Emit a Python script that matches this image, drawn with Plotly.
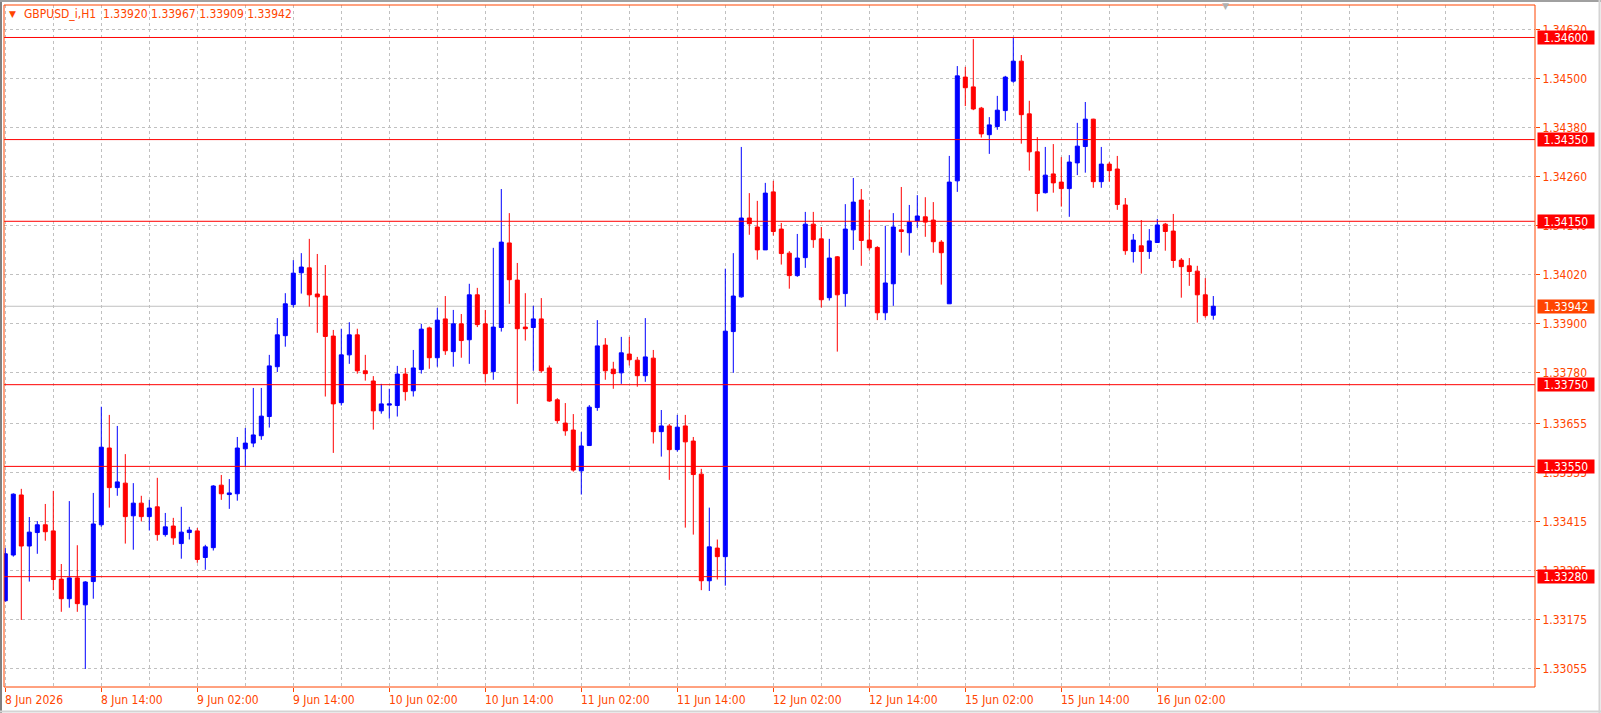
import plotly.graph_objects as go

# ---------------- data (GBPUSD_i, H1) ----------------
open_ = [1.33221, 1.33333, 1.33480, 1.33355, 1.33388, 1.33407, 1.33392, 1.33274, 1.33226, 1.33277,
         1.33211, 1.33268, 1.33407, 1.33595, 1.33498, 1.33509, 1.33429, 1.33460, 1.33427, 1.33451,
         1.33383, 1.33404, 1.33361, 1.33388, 1.33392, 1.33327, 1.33351, 1.33504, 1.33481, 1.33483,
         1.33593, 1.33607, 1.33625, 1.33672, 1.33794, 1.33870, 1.33946, 1.34024, 1.34036, 1.33972,
         1.33967, 1.33869, 1.33706, 1.33823, 1.33872, 1.33784, 1.33759, 1.33686, 1.33700, 1.33699,
         1.33776, 1.33735, 1.33787, 1.33889, 1.33816, 1.33911, 1.33831, 1.33899, 1.33860, 1.33970,
         1.33899, 1.33782, 1.33890, 1.34097, 1.34006, 1.33891, 1.33890, 1.33911, 1.33791, 1.33713,
         1.33656, 1.33639, 1.33539, 1.33601, 1.33694, 1.33847, 1.33788, 1.33779, 1.33825, 1.33810,
         1.33772, 1.33815, 1.33635, 1.33649, 1.33591, 1.33649, 1.33612, 1.33531, 1.33270, 1.33350,
         1.33329, 1.33880, 1.33965, 1.34158, 1.34136, 1.34080, 1.34222, 1.34131, 1.34072, 1.34017,
         1.34061, 1.34143, 1.34107, 1.33963, 1.34063, 1.33973, 1.34129, 1.34202, 1.34104, 1.34086,
         1.33926, 1.33997, 1.34129, 1.34122, 1.34151, 1.34161, 1.34153, 1.34099, 1.33948, 1.34249,
         1.34503, 1.34479, 1.34427, 1.34362, 1.34382, 1.34421, 1.34493, 1.34542, 1.34413, 1.34320,
         1.34220, 1.34266, 1.34246, 1.34230, 1.34293, 1.34333, 1.34400, 1.34247, 1.34290, 1.34278,
         1.34190, 1.34076, 1.34090, 1.34076, 1.34098, 1.34143, 1.34126, 1.34055, 1.34041, 1.34028,
         1.33970, 1.33920]
high_ = [1.33350, 1.33484, 1.33495, 1.33426, 1.33416, 1.33458, 1.33490, 1.33311, 1.33465, 1.33357,
         1.33269, 1.33485, 1.33696, 1.33676, 1.33649, 1.33580, 1.33509, 1.33478, 1.33468, 1.33522,
         1.33436, 1.33424, 1.33451, 1.33402, 1.33399, 1.33358, 1.33504, 1.33529, 1.33519, 1.33622,
         1.33644, 1.33742, 1.33742, 1.33823, 1.33913, 1.33974, 1.34055, 1.34072, 1.34107, 1.34070,
         1.34043, 1.33884, 1.33887, 1.33903, 1.33887, 1.33823, 1.33771, 1.33752, 1.33740, 1.33796,
         1.33791, 1.33835, 1.33899, 1.33892, 1.33938, 1.33967, 1.33933, 1.33923, 1.33997, 1.33987,
         1.33933, 1.34085, 1.34229, 1.34170, 1.34048, 1.33974, 1.33943, 1.33962, 1.33797, 1.33717,
         1.33705, 1.33678, 1.33634, 1.33700, 1.33908, 1.33864, 1.33806, 1.33867, 1.33867, 1.33818,
         1.33913, 1.33835, 1.33688, 1.33654, 1.33676, 1.33676, 1.33622, 1.33544, 1.33449, 1.33371,
         1.34034, 1.34072, 1.34332, 1.34219, 1.34200, 1.34244, 1.34249, 1.34146, 1.34077, 1.34119,
         1.34173, 1.34173, 1.34136, 1.34107, 1.34065, 1.34192, 1.34256, 1.34229, 1.34178, 1.34089,
         1.34139, 1.34170, 1.34234, 1.34190, 1.34214, 1.34209, 1.34197, 1.34104, 1.34310, 1.34530,
         1.34528, 1.34596, 1.34430, 1.34405, 1.34457, 1.34506, 1.34601, 1.34557, 1.34445, 1.34356,
         1.34332, 1.34339, 1.34307, 1.34312, 1.34391, 1.34442, 1.34401, 1.34332, 1.34295, 1.34310,
         1.34207, 1.34119, 1.34153, 1.34131, 1.34156, 1.34146, 1.34168, 1.34060, 1.34060, 1.34041,
         1.34011, 1.33967]
low_ = [1.33219, 1.33329, 1.33174, 1.33268, 1.33336, 1.33368, 1.33247, 1.33194, 1.33204, 1.33194,
        1.33054, 1.33226, 1.33402, 1.33449, 1.33478, 1.33361, 1.33346, 1.33415, 1.33393, 1.33368,
        1.33378, 1.33358, 1.33324, 1.33371, 1.33314, 1.33297, 1.33344, 1.33468, 1.33446, 1.33466,
        1.33549, 1.33597, 1.33615, 1.33645, 1.33781, 1.33843, 1.33939, 1.33973, 1.33941, 1.33877,
        1.33721, 1.33583, 1.33699, 1.33801, 1.33777, 1.33760, 1.33640, 1.33679, 1.33667, 1.33672,
        1.33711, 1.33721, 1.33777, 1.33789, 1.33794, 1.33823, 1.33794, 1.33816, 1.33801, 1.33891,
        1.33755, 1.33762, 1.33880, 1.33948, 1.33703, 1.33858, 1.33784, 1.33779, 1.33708, 1.33655,
        1.33625, 1.33537, 1.33481, 1.33601, 1.33686, 1.33762, 1.33740, 1.33752, 1.33797, 1.33745,
        1.33757, 1.33606, 1.33574, 1.33517, 1.33586, 1.33400, 1.33383, 1.33247, 1.33245, 1.33273,
        1.33258, 1.33779, 1.33963, 1.34117, 1.34056, 1.34080, 1.34115, 1.34044, 1.33985, 1.34014,
        1.34036, 1.34085, 1.33939, 1.33956, 1.33831, 1.33941, 1.34080, 1.34041, 1.34078, 1.33908,
        1.33908, 1.33943, 1.34073, 1.34066, 1.34134, 1.34112, 1.34073, 1.33995, 1.33948, 1.34222,
        1.34432, 1.34422, 1.34355, 1.34315, 1.34374, 1.34396, 1.34489, 1.34340, 1.34274, 1.34174,
        1.34218, 1.34220, 1.34186, 1.34161, 1.34263, 1.34269, 1.34232, 1.34232, 1.34247, 1.34178,
        1.34068, 1.34049, 1.34022, 1.34058, 1.34098, 1.34078, 1.34036, 1.33963, 1.33992, 1.33902,
        1.33914, 1.33909]
close_ = [1.33336, 1.33482, 1.33355, 1.33389, 1.33407, 1.33390, 1.33273, 1.33226, 1.33277, 1.33214,
          1.33267, 1.33409, 1.33597, 1.33498, 1.33512, 1.33427, 1.33460, 1.33427, 1.33448, 1.33383,
          1.33402, 1.33375, 1.33389, 1.33394, 1.33322, 1.33353, 1.33502, 1.33483, 1.33485, 1.33595,
          1.33607, 1.33627, 1.33673, 1.33796, 1.33872, 1.33948, 1.34023, 1.34038, 1.33970, 1.33965,
          1.33868, 1.33703, 1.33823, 1.33872, 1.33784, 1.33777, 1.33686, 1.33703, 1.33703, 1.33776,
          1.33733, 1.33791, 1.33886, 1.33816, 1.33908, 1.33833, 1.33899, 1.33858, 1.33970, 1.33897,
          1.33777, 1.33891, 1.34099, 1.34007, 1.33887, 1.33887, 1.33911, 1.33784, 1.33710, 1.33662,
          1.33637, 1.33541, 1.33600, 1.33695, 1.33845, 1.33784, 1.33777, 1.33828, 1.33811, 1.33772,
          1.33818, 1.33635, 1.33649, 1.33591, 1.33646, 1.33610, 1.33530, 1.33270, 1.33353, 1.33329,
          1.33881, 1.33967, 1.34158, 1.34144, 1.34080, 1.34219, 1.34125, 1.34071, 1.34017, 1.34060,
          1.34143, 1.34105, 1.33958, 1.34060, 1.33970, 1.34131, 1.34197, 1.34103, 1.34085, 1.33926,
          1.33999, 1.34136, 1.34125, 1.34148, 1.34163, 1.34148, 1.34100, 1.34073, 1.34246, 1.34506,
          1.34477, 1.34425, 1.34364, 1.34386, 1.34422, 1.34503, 1.34542, 1.34411, 1.34320, 1.34218,
          1.34263, 1.34244, 1.34230, 1.34295, 1.34334, 1.34400, 1.34247, 1.34290, 1.34274, 1.34191,
          1.34078, 1.34104, 1.34076, 1.34102, 1.34141, 1.34125, 1.34054, 1.34039, 1.34027, 1.33970,
          1.33919, 1.33942]

# time-axis labels (bar index -> label)
time_tick_idx = [0, 12, 24, 36, 48, 60, 72, 84, 96, 108, 120, 132, 144]
time_tick_text = ["8 Jun 2026", "8 Jun 14:00", "9 Jun 02:00", "9 Jun 14:00", "10 Jun 02:00",
                  "10 Jun 14:00", "11 Jun 02:00", "11 Jun 14:00", "12 Jun 02:00", "12 Jun 14:00",
                  "15 Jun 02:00", "15 Jun 14:00", "16 Jun 02:00"]

# price-axis labels
price_ticks = [1.34620, 1.34500, 1.34380, 1.34260, 1.34140, 1.34020, 1.33900,
               1.33780, 1.33655, 1.33535, 1.33415, 1.33295, 1.33175, 1.33055]

# horizontal level lines
levels = [1.34600, 1.34350, 1.34150, 1.33750, 1.33550, 1.33280]

symbol = "GBPUSD_i,H1"

# ---------------- styling ----------------
FG = "#FF4500"
FONT = "DejaVu Sans Condensed, DejaVu Sans, sans-serif"
W, H = 1601, 713
ML, MR, MT, MB = 4, 66, 5, 26
PX_PER_BAR = 8.0
FIRST_BAR_PX = 5.3

n = len(close_)
x = list(range(n))

plot_w = W - ML - MR
plot_h = H - MT - MB
x0 = (ML - (ML + FIRST_BAR_PX - ML)) / PX_PER_BAR  # placeholder computed below
x_left = -(FIRST_BAR_PX - 0 - (0)) / PX_PER_BAR
# left edge of plot is at pixel ML; bar 0 centre sits at pixel FIRST_BAR_PX
x_left = (ML - FIRST_BAR_PX) / PX_PER_BAR
x_right = x_left + plot_w / PX_PER_BAR

y_bottom, y_top = 1.330099, 1.346795

fig = go.Figure()
fig.add_trace(go.Candlestick(
    x=x, open=open_, high=high_, low=low_, close=close_,
    increasing=dict(line=dict(color="#0000FF", width=1), fillcolor="#0000FF"),
    decreasing=dict(line=dict(color="#FF0000", width=1), fillcolor="#FF0000"),
    whiskerwidth=0, showlegend=False, hoverinfo="skip",
))

grid_style = dict(gridcolor="#C0C0C0", gridwidth=1, griddash="3px,3px")

minor_grid = [v for v in range(6, int(x_right) + 1, 6) if v not in time_tick_idx]

fig.update_layout(
    width=W, height=H,
    margin=dict(l=ML, r=MR, t=MT, b=MB, pad=0),
    paper_bgcolor="white", plot_bgcolor="white",
    boxgap=0.5, boxgroupgap=0,
    hovermode=False, dragmode=False,
    font=dict(family=FONT, size=12, color=FG),
    xaxis=dict(
        range=[x_left, x_right], rangeslider=dict(visible=False),
        tickmode="array", tickvals=time_tick_idx, ticktext=[""] * len(time_tick_idx),
        ticks="outside", ticklen=4, tickcolor=FG, tickwidth=1,
        showgrid=True, **grid_style, zeroline=False, showline=False,
        minor=dict(tickmode="array", tickvals=minor_grid, showgrid=True,
                   gridcolor="#C0C0C0", gridwidth=1, griddash="3px,3px", ticks=""),
        fixedrange=True,
    ),
    yaxis=dict(
        range=[y_bottom, y_top], side="right",
        tickmode="array", tickvals=price_ticks,
        ticktext=[f"{p:.5f}" for p in price_ticks],
        ticks="outside", ticklen=4, tickcolor=FG, tickwidth=1,
        tickfont=dict(family=FONT, size=12, color=FG),
        showgrid=True, **grid_style, zeroline=False, showline=False,
        fixedrange=True,
    ),
)

shapes = []
# current price line
last_close = close_[-1]
shapes.append(dict(type="line", xref="paper", yref="y", x0=0, x1=1, y0=last_close, y1=last_close,
                   line=dict(color="#C0C0C0", width=1), layer="below"))
# level lines
for lv in levels:
    shapes.append(dict(type="line", xref="paper", yref="y", x0=0, x1=1, y0=lv, y1=lv,
                       line=dict(color="#FF0000", width=1), layer="above"))
# plot border
shapes.append(dict(type="rect", xref="paper", yref="paper", x0=0, x1=1, y0=0, y1=1,
                   line=dict(color=FG, width=1), layer="above"))


def px2paper_x(px):
    return (px - ML) / plot_w


def py2paper_y(py):
    return (H - MB - py) / plot_h


# outer window frame
shapes.append(dict(type="line", xref="paper", yref="paper", x0=px2paper_x(1), x1=px2paper_x(1),
                   y0=py2paper_y(0), y1=py2paper_y(H), line=dict(color="#808080", width=2)))
shapes.append(dict(type="line", xref="paper", yref="paper", x0=px2paper_x(0), x1=px2paper_x(W),
                   y0=py2paper_y(1), y1=py2paper_y(1), line=dict(color="#A0A0A0", width=2)))
shapes.append(dict(type="line", xref="paper", yref="paper", x0=px2paper_x(W - 1.5), x1=px2paper_x(W - 1.5),
                   y0=py2paper_y(0), y1=py2paper_y(H), line=dict(color="#D4D4D4", width=2)))
shapes.append(dict(type="line", xref="paper", yref="paper", x0=px2paper_x(0), x1=px2paper_x(W),
                   y0=py2paper_y(H - 1.5), y1=py2paper_y(H - 1.5), line=dict(color="#D4D4D4", width=2)))
fig.update_layout(shapes=shapes)

ann = []
# time labels, left-aligned at their tick
for idx, txt in zip(time_tick_idx, time_tick_text):
    ann.append(dict(x=idx, xref="x", y=0, yref="paper", text=txt, showarrow=False,
                    xanchor="left", yanchor="top", xshift=-2, yshift=-4,
                    font=dict(family=FONT, size=12, color=FG)))
# level labels
for lv in levels:
    ann.append(dict(x=1, xref="paper", y=lv, yref="y", text=f"{lv:.5f}", showarrow=False,
                    xanchor="left", yanchor="middle", xshift=2, width=56, height=13, borderpad=0,
                    bgcolor="#FF0000", font=dict(family=FONT, size=12, color="white")))
# current price label
ann.append(dict(x=1, xref="paper", y=last_close, yref="y", text=f"{last_close:.5f}", showarrow=False,
                xanchor="left", yanchor="middle", xshift=2, width=56, height=13, borderpad=0,
                bgcolor=FG, font=dict(family=FONT, size=12, color="white")))
# header
ann.append(dict(x=px2paper_x(12), xref="paper", y=py2paper_y(14), yref="paper", text="▼",
                showarrow=False, xanchor="center", yanchor="middle",
                font=dict(family="DejaVu Sans", size=9, color=FG)))
header = f"{symbol}  {open_[-1]:.5f} {high_[-1]:.5f} {low_[-1]:.5f} {close_[-1]:.5f}"
ann.append(dict(x=px2paper_x(23), xref="paper", y=py2paper_y(14), yref="paper", text=header,
                showarrow=False, xanchor="left", yanchor="middle", xshift=-1,
                font=dict(family=FONT, size=12, color=FG)))
# chart shift marker
ann.append(dict(x=px2paper_x(1225), xref="paper", y=py2paper_y(6), yref="paper", text="▼",
                showarrow=False, xanchor="center", yanchor="middle",
                font=dict(family="DejaVu Sans", size=9, color="#B0B0B0")))
fig.update_layout(annotations=ann)

fig.write_html("out.html", config={"displayModeBar": False})
